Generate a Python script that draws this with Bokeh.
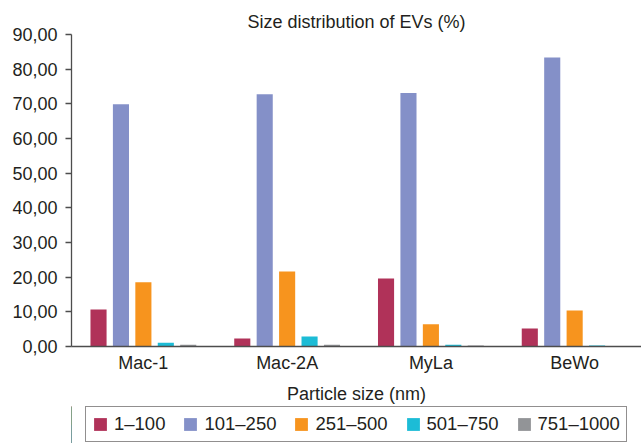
import numpy as np
from bokeh.plotting import figure
from bokeh.layouts import column
from bokeh.models import ColumnDataSource, Range1d, FixedTicker, Legend, LegendItem, CustomJSTickFormatter
from bokeh.embed import file_html
from bokeh.resources import INLINE

groups = ["Mac-1", "Mac-2A", "MyLa", "BeWo"]
sizes = ["1\u2013100", "101\u2013250", "251\u2013500", "501\u2013750", "751\u20131000"]
v_1_100 = [10.7, 2.3, 19.6, 5.2]
v_101_250 = [69.9, 72.8, 73.1, 83.4]
v_251_500 = [18.5, 21.6, 6.4, 10.4]
v_501_750 = [1.1, 2.9, 0.5, 0.3]
v_751_1000 = [0.5, 0.5, 0.3, 0.0]
y_ticks = [0, 10, 20, 30, 40, 50, 60, 70, 80, 90]

series = [v_1_100, v_101_250, v_251_500, v_501_750, v_751_1000]
colors = ["#B03259", "#8490C8", "#F7941E", "#1CBCD6", "#929497"]

FONT = "Liberation Sans"
TXT = "#231F20"
AX = "#4D4D4D"

p = figure(frame_width=570, frame_height=312, output_backend="svg", toolbar_location=None,
           x_range=Range1d(0, 3.965), y_range=Range1d(0, 90),
           min_border_left=71, min_border_right=0, min_border_top=34, min_border_bottom=60,
           title="Size distribution of EVs (%)")
p.outline_line_color = None
p.xgrid.grid_line_color = None
p.ygrid.grid_line_color = None

p.title.align = "center"
p.title.text_font = FONT
p.title.text_font_size = "18px"
p.title.text_font_style = "normal"
p.title.text_color = TXT
p.title.standoff = 5

step = 0.156
width = 0.112
base = np.arange(len(groups)) + 0.5
sources = []
for i, (vals, col) in enumerate(zip(series, colors)):
    src = ColumnDataSource(dict(x=base + (i - 2) * step, top=vals))
    sources.append(src)
    p.vbar(x="x", top="top", width=width, bottom=0, source=src,
           fill_color=col, line_color=None)

# axes
p.xaxis.ticker = FixedTicker(ticks=list(base))
p.xaxis.major_label_overrides = {float(b): g for b, g in zip(base, groups)}
p.xaxis.major_tick_out = 0
p.xaxis.major_tick_in = 0
p.xaxis.minor_tick_out = 0
p.xaxis.minor_tick_in = 0
p.xaxis.axis_line_color = AX
p.xaxis.axis_line_width = 1.3
p.xaxis.major_label_text_font = FONT
p.xaxis.major_label_text_font_size = "18px"
p.xaxis.major_label_text_color = TXT
p.xaxis.major_label_standoff = 6
p.xaxis.axis_label = "Particle size (nm)"
p.xaxis.axis_label_text_font = FONT
p.xaxis.axis_label_text_font_size = "18px"
p.xaxis.axis_label_text_font_style = "normal"
p.xaxis.axis_label_text_color = TXT
p.xaxis.axis_label_standoff = 8

p.yaxis.ticker = FixedTicker(ticks=y_ticks)
p.yaxis.formatter = CustomJSTickFormatter(code="return tick.toFixed(2).replace('.', ',');")
p.yaxis.major_tick_out = 6
p.yaxis.major_tick_in = 0
p.yaxis.minor_tick_out = 0
p.yaxis.minor_tick_in = 0
p.yaxis.axis_line_color = AX
p.yaxis.axis_line_width = 1.3
p.yaxis.major_tick_line_color = AX
p.yaxis.major_tick_line_width = 1.3
p.yaxis.major_label_text_font = FONT
p.yaxis.major_label_text_font_size = "18px"
p.yaxis.major_label_text_color = TXT
p.yaxis.major_label_standoff = 8

# legend strip below the chart (same series, kept out of this strip's view)
p2 = figure(frame_width=641, frame_height=37, output_backend="svg", toolbar_location=None,
            x_range=Range1d(100, 101), y_range=Range1d(0, 1),
            x_axis_location=None, y_axis_location=None,
            min_border_left=0, min_border_right=0, min_border_top=0, min_border_bottom=0)
p2.outline_line_color = None
p2.xgrid.grid_line_color = None
p2.ygrid.grid_line_color = None
items = []
for name, col, src in zip(sizes, colors, sources):
    r = p2.vbar(x="x", top="top", width=width, bottom=0, source=src,
                fill_color=col, line_color=None)
    items.append(LegendItem(label=name, renderers=[r], index=0))
legend = Legend(items=items, orientation="horizontal", location=(85, 0.8),
                border_line_color="#231F20", border_line_width=1.3,
                label_text_font=FONT, label_text_font_size="18.5px", label_text_color=TXT,
                glyph_width=16, glyph_height=16, label_standoff=6, spacing=17,
                padding=6, margin=0, label_height=16)
p2.add_layout(legend)

layout = column(p, p2, spacing=0)
open("out.html", "w").write(file_html(layout, INLINE))
